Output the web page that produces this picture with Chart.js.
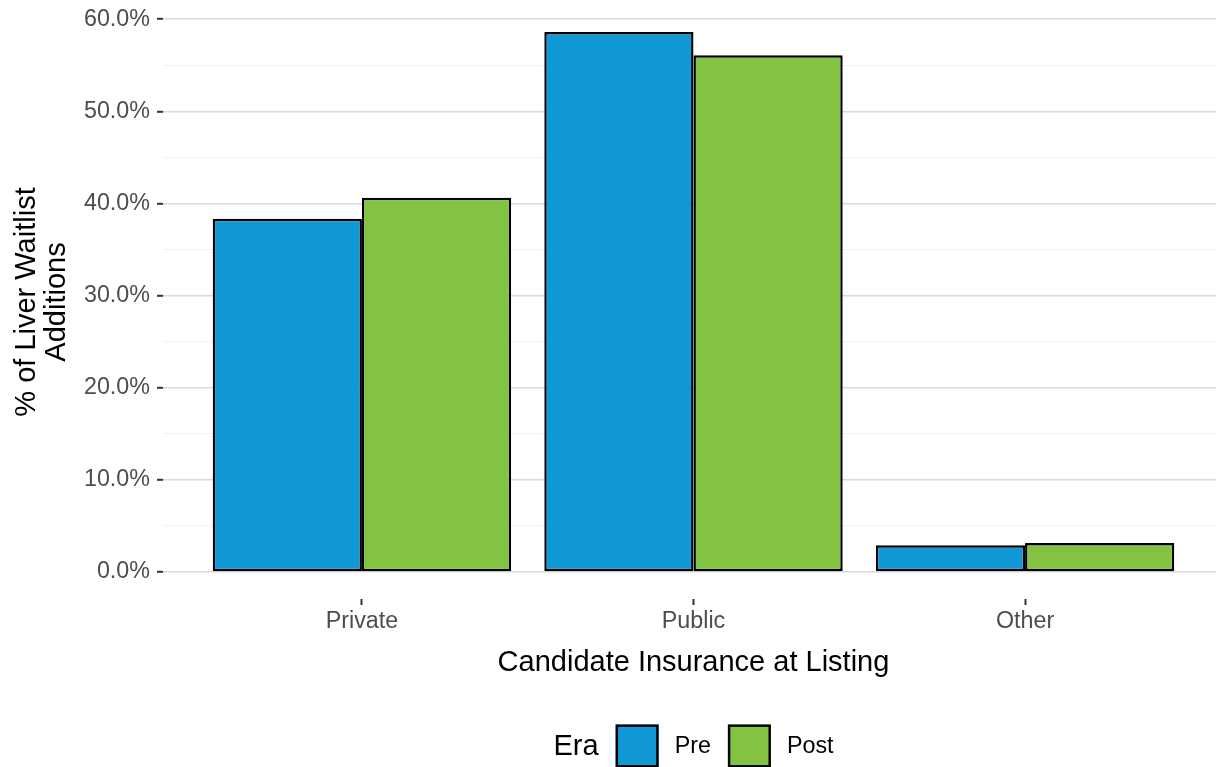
<!DOCTYPE html>
<html><head><meta charset="utf-8">
<script src="https://cdn.jsdelivr.net/npm/chart.js@4.4.1/dist/chart.umd.min.js"></script>
<style>html,body{margin:0;padding:0;overflow:hidden;background:#fff}canvas{display:block}</style>
</head><body>
<canvas id="c" width="1224" height="767"></canvas>
<script>
const categories = ['Private', 'Public', 'Other'];
const seriesNames = ['Pre', 'Post'];
const preValues = [38.34, 58.62, 2.90];
const postValues = [40.62, 56.09, 3.15];
const yTickValues = [0, 5, 10, 15, 20, 25, 30, 35, 40, 45, 50, 55, 60];
const legendTitle = 'Era';
const xTitle = 'Candidate Insurance at Listing';
const yTitle = ['% of Liver Waitlist', 'Additions'];

const FONT = "'Liberation Sans', Arial, Helvetica, sans-serif";
const colors = ['#1199D6', '#82C341'];
const dataMax = Math.max(...preValues, ...postValues);
const yPad = dataMax * 0.05;
const toPoints = vals => vals.map((v, i) => ({x: i + 1, y: v}));
const isMajor = v => Math.abs(v % 10) < 1e-9;

const eraLegend = {
  id: 'eraLegend',
  afterDraw(chart) {
    const ctx = chart.ctx;
    const area = chart.chartArea;
    const cx = (area.left + area.right) / 2;
    const cy = chart.height - 21;
    const box = 43;
    ctx.save();
    ctx.textBaseline = 'middle';
    ctx.textAlign = 'left';
    ctx.font = `29px ${FONT}`;
    const titleW = ctx.measureText(legendTitle).width;
    ctx.font = `23.3px ${FONT}`;
    const labelW = chart.data.datasets.map(d => ctx.measureText(d.label).width);
    const total = titleW + labelW.reduce((a, w) => a + 17 + box + 16 + w, 0);
    let x = cx - total / 2;
    ctx.fillStyle = '#000';
    ctx.font = `29px ${FONT}`;
    ctx.fillText(legendTitle, x, cy + 1);
    x += titleW;
    chart.data.datasets.forEach((d, i) => {
      x += 17;
      ctx.fillStyle = d.backgroundColor;
      ctx.fillRect(x, cy - box / 2, box, box);
      ctx.lineWidth = 2.4;
      ctx.strokeStyle = '#000';
      ctx.strokeRect(x + 1.2, cy - box / 2 + 1.2, box - 2.4, box - 2.4);
      x += box + 16;
      ctx.fillStyle = '#000';
      ctx.font = `23.3px ${FONT}`;
      ctx.fillText(d.label, x, cy + 1);
      x += labelW[i];
    });
    ctx.restore();
  }
};

new Chart(document.getElementById('c'), {
  type: 'bar',
  data: {
    datasets: [
      {label: seriesNames[0], data: toPoints(preValues), backgroundColor: colors[0]},
      {label: seriesNames[1], data: toPoints(postValues), backgroundColor: colors[1]}
    ].map(d => Object.assign(d, {
      borderColor: '#000', borderWidth: 2.4, borderSkipped: false,
      barPercentage: 1, categoryPercentage: 0.9
    }))
  },
  options: {
    responsive: false,
    devicePixelRatio: 1,
    animation: false,
    layout: {padding: {top: 5, left: 0, right: 0, bottom: 70}},
    plugins: {legend: {display: false}, tooltip: {enabled: false}},
    scales: {
      x: {
        type: 'linear', min: 0.4, max: 3.6, offset: false,
        afterBuildTicks: s => { s.ticks = categories.map((c, i) => ({value: i + 1})); },
        afterFit: s => { s.height = 98; s.paddingLeft = 0; s.paddingRight = 0; },
        ticks: {
          callback: v => categories[Math.round(v) - 1] ?? '',
          color: '#4d4d4d', font: {family: FONT, size: 23.3}, padding: 3,
          maxRotation: 0, autoSkip: false
        },
        grid: {offset: false, drawOnChartArea: false, drawTicks: true, tickLength: 6, tickColor: '#333', tickWidth: 2},
        border: {display: false},
        title: {display: true, text: xTitle, color: '#000', font: {family: FONT, size: 29, lineHeight: 1.2}, padding: {top: 0, bottom: 17}}
      },
      y: {
        min: -yPad, max: dataMax + yPad,
        afterBuildTicks: s => { s.ticks = yTickValues.map(v => ({value: v})); },
        afterFit: s => { s.width = 163; s.paddingTop = 0; s.paddingBottom = 0; },
        ticks: {
          callback: v => isMajor(v) ? v.toFixed(1) + '%' : '',
          color: '#4d4d4d', font: {family: FONT, size: 23.3}, padding: 7, autoSkip: false
        },
        grid: {
          color: c => (c.tick && isMajor(c.tick.value)) ? '#d9d9d9' : '#efefef',
          lineWidth: c => (c.tick && isMajor(c.tick.value)) ? 1.6 : 0.9,
          tickColor: c => (c.tick && isMajor(c.tick.value)) ? '#333' : 'rgba(0,0,0,0)',
          tickLength: 6, tickWidth: 2, drawTicks: true
        },
        border: {display: false},
        title: {display: true, text: yTitle, color: '#000', font: {family: FONT, size: 29, lineHeight: 1.035}, padding: {top: 12, bottom: 0}}
      }
    }
  },
  plugins: [eraLegend]
});
</script>
</body></html>
